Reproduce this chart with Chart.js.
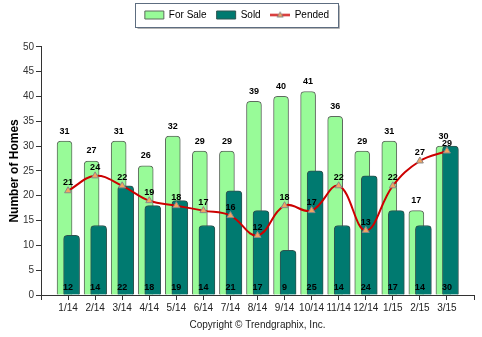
<!DOCTYPE html>
<html>
<head>
<meta charset="utf-8">
<script src="https://cdn.jsdelivr.net/npm/chart.js@4.4.1/dist/chart.umd.min.js"></script>
<style>
  html, body { margin: 0; padding: 0; background: #fff; }
  #wrap { width: 482px; height: 337px; position: relative; }
</style>
</head>
<body>
<div id="wrap"><canvas id="homes"></canvas></div>
<script>
const months = ['1/14', '2/14', '3/14', '4/14', '5/14', '6/14', '7/14', '8/14', '9/14', '10/14', '11/14', '12/14', '1/15', '2/15', '3/15'];
const forSale = [31, 27, 31, 26, 32, 29, 29, 39, 40, 41, 36, 29, 31, 17, 30];
const sold = [12, 14, 22, 18, 19, 14, 21, 17, 9, 25, 14, 24, 17, 14, 30];
const pended = [21, 24, 22, 19, 18, 17, 16, 12, 18, 17, 22, 13, 22, 27, 29];

const FONT = '"Liberation Sans", Arial, sans-serif';
const NARROW = '"Liberation Sans Narrow", "Arial Narrow", ' + FONT;
const RED = '#cc0000';
const ORANGE = '#f4a460';

// For Sale and Sold bars sit a bit left / right of the month, overlapping
const barShift = 0.13;

Chart.defaults.font.family = FONT;
Chart.defaults.color = '#222';

const toPoints = arr => arr.map((v, i) => ({ x: i, y: v }));

// red line with a small triangle for the Pended legend entry
function lineGlyph() {
    const c = document.createElement('canvas');
    c.width = 20; c.height = 9;
    const g = c.getContext('2d');
    g.strokeStyle = RED; g.lineWidth = 2;
    g.beginPath(); g.moveTo(0, 4.5); g.lineTo(20, 4.5); g.stroke();
    g.fillStyle = ORANGE; g.strokeStyle = '#888'; g.lineWidth = 1;
    g.beginPath(); g.moveTo(10, 1.5); g.lineTo(13, 6.5); g.lineTo(7, 6.5); g.closePath();
    g.fill(); g.stroke();
    return c;
}
const pendedGlyph = lineGlyph();

// value numbers: over the For Sale bars, at the foot of Sold, above the Pended points
const valueLabels = {
    id: 'valueLabels',
    afterDatasetsDraw(chart) {
        const { ctx, scales } = chart;
        ctx.save();
        ctx.font = 'bold 9px ' + FONT;
        ctx.fillStyle = '#000';
        ctx.textAlign = 'center';
        ctx.textBaseline = 'middle';
        chart.data.datasets.forEach((ds, di) => {
            const meta = chart.getDatasetMeta(di);
            if (meta.hidden) return;
            meta.data.forEach((el, i) => {
                const v = ds.data[i].y;
                if (ds.valueLabel === 'top') {
                    ctx.fillText(v, el.x, el.y - 10);
                } else if (ds.valueLabel === 'base') {
                    ctx.fillText(v, scales.x.getPixelForValue(i), scales.y.getPixelForValue(0) - 7);
                } else {
                    ctx.fillText(v, el.x, el.y - 8);
                }
            });
        });
        ctx.restore();
    }
};

// frame round the legend
const legendFrame = {
    id: 'legendFrame',
    afterDraw(chart) {
        const boxes = chart.legend.legendHitBoxes;
        if (!boxes || !boxes.length) return;
        const { ctx } = chart;
        const left = Math.round(Math.min(...boxes.map(b => b.left))) - 9.5;
        const right = Math.round(Math.max(...boxes.map(b => b.left + b.width))) + 9.5;
        const mid = boxes[0].top + boxes[0].height / 2;
        const top = Math.round(mid - 12) + 0.5;
        const bottom = Math.round(mid + 12) + 0.5;
        ctx.save();
        ctx.strokeStyle = '#b5b5b5';
        ctx.beginPath();
        ctx.moveTo(right + 1, top + 2); ctx.lineTo(right + 1, bottom + 1); ctx.lineTo(left + 2, bottom + 1);
        ctx.stroke();
        ctx.strokeStyle = '#5d6d80';
        ctx.strokeRect(left, top, right - left, bottom - top);
        ctx.restore();
    }
};

new Chart(document.getElementById('homes'), {
    data: {
        datasets: [{
            type: 'bar',
            label: 'For Sale',
            data: toPoints(forSale),
            xAxisID: 'xFor',
            grouped: false,
            backgroundColor: '#98fb98',
            borderColor: '#5e6a5e',
            borderWidth: 1,
            borderRadius: { topLeft: 4, topRight: 4, bottomLeft: 0, bottomRight: 0 },
            borderSkipped: 'bottom',
            barThickness: 15,
            valueLabel: 'top',
            order: 2
        }, {
            type: 'bar',
            label: 'Sold',
            data: toPoints(sold),
            xAxisID: 'xSold',
            grouped: false,
            backgroundColor: '#007a70',
            borderColor: '#2f5450',
            borderWidth: 1,
            borderRadius: { topLeft: 4, topRight: 4, bottomLeft: 0, bottomRight: 0 },
            borderSkipped: 'bottom',
            barThickness: 16,
            valueLabel: 'base',
            order: 1
        }, {
            type: 'line',
            label: 'Pended',
            data: toPoints(pended),
            xAxisID: 'x',
            borderColor: RED,
            borderWidth: 2,
            tension: 0.4,
            pointStyle: 'triangle',
            pointRadius: 4,
            pointBackgroundColor: ORANGE,
            pointBorderColor: '#8a8a8a',
            pointBorderWidth: 1,
            valueLabel: 'point',
            order: 0
        }]
    },
    options: {
        responsive: true,
        maintainAspectRatio: false,
        animation: false,
        layout: { padding: { top: 0, left: 0, right: 8, bottom: 0 } },
        plugins: {
            // blank title, only keeps a gap between the legend and the plot
            title: {
                display: true,
                text: ' ',
                weight: 500,
                padding: 0,
                font: { size: 14 }
            },
            legend: {
                position: 'top',
                labels: {
                    usePointStyle: true,
                    pointStyleWidth: 19,
                    boxHeight: 8,
                    padding: 10,
                    color: '#000',
                    font: { size: 10, family: NARROW },
                    sort: (a, b) => a.datasetIndex - b.datasetIndex,
                    generateLabels(chart) {
                        const items = Chart.defaults.plugins.legend.labels.generateLabels(chart);
                        items.forEach(it => {
                            const ds = chart.data.datasets[it.datasetIndex];
                            it.pointStyle = ds.type === 'line' ? pendedGlyph : 'rect';
                            it.lineWidth = 1;
                        });
                        return items;
                    }
                }
            },
            tooltip: { enabled: false }
        },
        scales: {
            x: {
                type: 'linear',
                min: -1,
                max: 15,
                offset: false,
                afterFit(scale) { scale.height = 42; },
                ticks: {
                    stepSize: 1,
                    autoSkip: false,
                    maxRotation: 0,
                    padding: 2,
                    color: '#222',
                    font: { size: 10 },
                    callback: v => months[v] || ''
                },
                grid: { drawOnChartArea: false, tickLength: 5, color: '#333', offset: false },
                border: { display: true, color: '#333' },
                title: {
                    display: true,
                    text: 'Copyright © Trendgraphix, Inc.',
                    color: '#222',
                    font: { size: 10, family: NARROW },
                    padding: { top: 0, bottom: 6 }
                }
            },
            xFor: {
                type: 'linear',
                display: false,
                offset: false,
                bounds: 'data',
                min: -1 + barShift,
                max: 15 + barShift
            },
            xSold: {
                type: 'linear',
                display: false,
                offset: false,
                bounds: 'data',
                min: -1 - barShift,
                max: 15 - barShift
            },
            y: {
                min: 0,
                max: 50,
                afterFit(scale) { scale.width = 41; },
                ticks: {
                    stepSize: 5,
                    padding: 2,
                    color: '#333',
                    font: { size: 10 }
                },
                grid: { drawOnChartArea: false, tickLength: 5, color: '#333' },
                border: { display: true, color: '#333' },
                title: {
                    display: true,
                    text: 'Number of Homes',
                    color: '#000',
                    font: { size: 12, weight: 'bold' },
                    padding: { top: 7, bottom: 0 }
                }
            }
        }
    },
    plugins: [valueLabels, legendFrame]
});
</script>
</body>
</html>
